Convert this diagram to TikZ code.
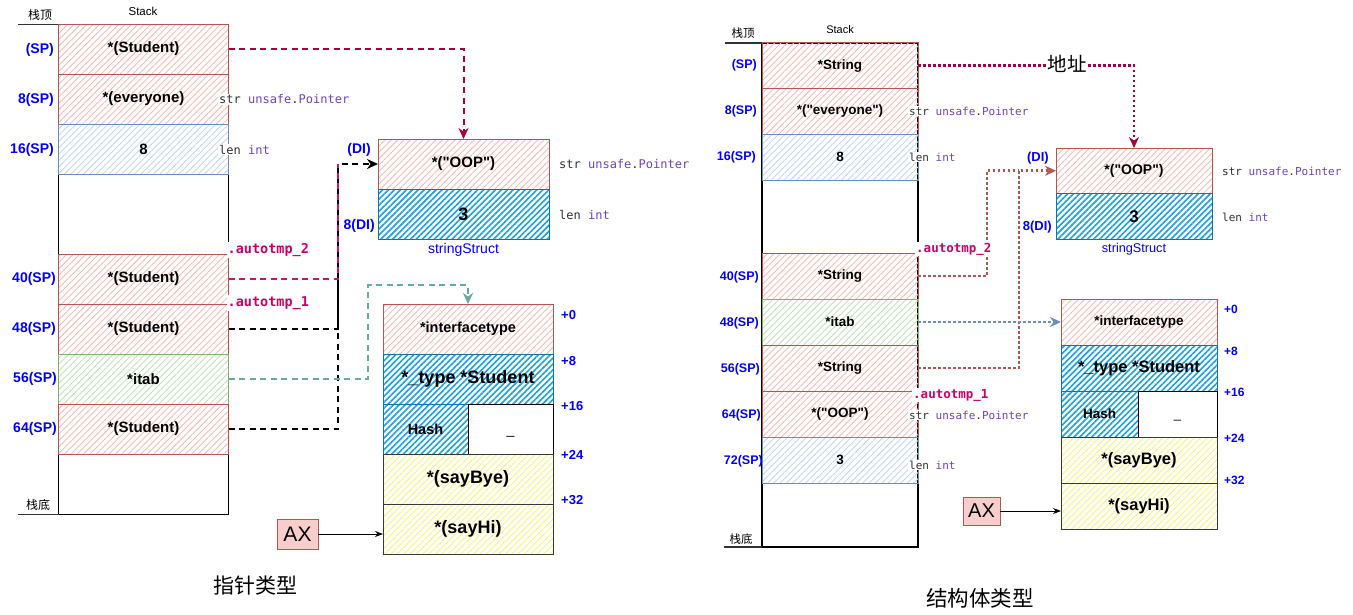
\documentclass[tikz,border=0pt]{standalone}
\usepackage{fontspec}
\setmainfont{Liberation Sans}[Ligatures=TeXOff]
\setmonofont{DejaVu Sans Mono}
\newfontfamily\cjk{Noto Sans CJK SC}
\usetikzlibrary{patterns.meta,arrows.meta}
\definecolor{redB}{RGB}{184,84,80}
\definecolor{redH}{RGB}{245,188,185}
\definecolor{blueB}{RGB}{108,142,191}
\definecolor{blueH}{RGB}{196,215,245}
\definecolor{greenB}{RGB}{130,179,102}
\definecolor{greenH}{RGB}{196,224,190}
\definecolor{yelB}{RGB}{54,57,61}
\definecolor{yelH}{RGB}{245,245,120}
\definecolor{denseB}{RGB}{16,115,170}
\definecolor{denseH}{RGB}{27,161,226}
\definecolor{crim}{RGB}{165,0,64}
\definecolor{pinkA}{RGB}{204,20,100}
\definecolor{tealA}{RGB}{103,171,159}
\definecolor{axF}{RGB}{248,206,204}
\definecolor{purp}{RGB}{111,66,193}
\definecolor{codeG}{RGB}{50,50,50}
\definecolor{tmpC}{RGB}{204,0,102}
\definecolor{lblB}{RGB}{0,0,255}
\newcommand\myfs[1]{\fontsize{#1pt}{#1pt}\selectfont}
\newcommand\strptr{\textcolor{codeG}{str} \textcolor{purp}{unsafe}\textcolor{codeG}{.}\textcolor{purp}{Pointer}}
\newcommand\lenint{\textcolor{codeG}{len} \textcolor{purp}{int}}
\begin{document}
\begin{tikzpicture}[x=1pt,y=-1pt,
  cell/.style={inner sep=0pt, outer sep=0pt, line width=0.9pt, font=\bfseries\myfs{15}},
  hred/.style={cell, draw=redB, pattern={Lines[angle=45,distance=4.5pt,line width=0.9pt]}, pattern color=redH},
  hblue/.style={cell, draw=blueB, pattern={Lines[angle=45,distance=4.5pt,line width=0.9pt]}, pattern color=blueH},
  hgreen/.style={cell, draw=greenB, pattern={Lines[angle=45,distance=4.5pt,line width=0.9pt]}, pattern color=greenH},
  hyellow/.style={cell, draw=yelB, pattern={Lines[angle=45,distance=4.5pt,line width=0.9pt]}, pattern color=yelH},
  hdense/.style={cell, draw=denseB, pattern={Lines[angle=45,distance=4.2pt,line width=1.6pt]}, pattern color=denseH},
  hwhite/.style={cell, draw=black, fill=white},
  Lrow/.style={minimum width=170pt, minimum height=50pt},
  Rrow/.style={minimum width=156pt, minimum height=46pt},
  stackbox/.style={draw=black, line width=1.2pt, fill=white, inner sep=0pt, outer sep=0pt},
  offl/.style={text=lblB, font=\bfseries\myfs{13}, inner sep=0pt},
  regl/.style={text=lblB, font=\bfseries\myfs{14}, inner sep=0pt, anchor=east},
  code/.style={font=\ttfamily\myfs{12}, fill=white, inner sep=1pt, anchor=west},
  tmp/.style={font=\ttfamily\bfseries\myfs{13.5}, text=tmpC, fill=white, inner sep=1pt, anchor=west},
  axbox/.style={draw=redB, fill=axF, line width=0.9pt, inner sep=0pt, font=\myfs{21}},
  cdash/.style={line width=2pt, dash pattern=on 6pt off 4.5pt},
  rdot/.style={line width=2.6pt, dash pattern=on 2.6pt off 2.4pt},
  tip/.style={-{Stealth[length=11pt,width=10pt]}},
  axarrow/.style={line width=0.8pt, -{Stealth[length=8pt,width=6pt]}}
]
\fill[white] (0,0) rectangle (1353,614);
\useasboundingbox (0,0) rectangle (1353,614);

%%%%%%%%%%%%%%%% LEFT: pointer type
\node[font=\myfs{11.5}] (LstackT) at (143,11) {Stack};
\node[font=\cjk\myfs{12}] (Ltop) at (40,15) {栈顶};
\node[font=\cjk\myfs{12}] (Lbot) at (38,505) {栈底};
\node[stackbox, minimum width=170pt, minimum height=490pt] (Lstack) at (143.5,269.5) {};
\coordinate (LtopA) at (18,24.5);
\coordinate (LbotA) at (18,514.5);
\draw[line width=1.5pt, black!80] (LtopA) -- (Lstack.north west);
\draw[line width=1.5pt, black!80] (LbotA) -- (Lstack.south west);

\node[hred, Lrow] (L1) at (143.5,49) {*(Student)};
\node[hred, Lrow] (L2) at (143.5,99) {*(everyone)};
\node[hblue, Lrow] (L3) at (143.5,149) {8};
\node[hred, Lrow] (L40) at (143.5,279) {*(Student)};
\node[hred, Lrow] (L48) at (143.5,329) {*(Student)};
\node[hgreen, Lrow] (L56) at (143.5,379) {*itab};
\node[hred, Lrow] (L64) at (143.5,429) {*(Student)};

\node[regl] (Ls0) at (54,49.5) {(SP)};
\node[regl] (Ls8) at (54,99.5) {8(SP)};
\node[regl] (Ls16) at (54,149.5) {16(SP)};
\node[regl] (Ls40) at (56,279) {40(SP)};
\node[regl] (Ls48) at (56,329) {48(SP)};
\node[regl] (Ls56) at (57,379) {56(SP)};
\node[regl] (Ls64) at (57,429) {64(SP)};

% stringStruct
\node[hred, minimum width=171pt, minimum height=50pt] (SL1) at (463.5,164) {*("OOP")};
\node[hdense, minimum width=171pt, minimum height=50pt, font=\bfseries\myfs{18}] (SL2) at (463.5,214) {3};
\node[text=lblB, font=\myfs{14}] (SLname) at (463.5,250) {stringStruct};
\node[regl] (LDI) at (371,150) {(DI)};
\node[regl] (LDI8) at (375,226) {8(DI)};
\node[code] (LSc1) at (558,164) {\strptr};
\node[code] (LSc2) at (558,215) {\lenint};

% itab
\node[hred, Lrow, font=\bfseries\myfs{14.5}] (IL0) at (468,329) {*interfacetype};
\node[hdense, Lrow, font=\bfseries\myfs{18}] (IL1) at (468,379) {*\_type *Student};
\node[hdense, minimum width=85pt, minimum height=50pt, font=\bfseries\myfs{14.5}] (IL2) at (425.5,429) {Hash};
\node[hwhite, minimum width=85pt, minimum height=50pt] (IL3) at (510.5,429) {};
\node[font=\myfs{14}, inner sep=0pt] (IL3t) at ([yshift=-7pt]IL3.center) {\_};
\node[hyellow, Lrow, font=\bfseries\myfs{18}] (IL4) at (468,479) {*(sayBye)};
\node[hyellow, Lrow, font=\bfseries\myfs{18}] (IL5) at (468,529) {*(sayHi)};
\node[offl, anchor=west] (Lo0) at (561,315) {+0};
\node[offl, anchor=west] (Lo8) at (561,361) {+8};
\node[offl, anchor=west] (Lo16) at (561,406) {+16};
\node[offl, anchor=west] (Lo24) at (561,455) {+24};
\node[offl, anchor=west] (Lo32) at (561,500) {+32};

\node[axbox, minimum width=41pt, minimum height=30pt] (AXL) at (297.5,534) {AX};
\draw[axarrow] (AXL.east) -- (AXL.east -| IL5.west);

% connectors left
\draw[crim, cdash, tip] (L1.east) -| (SL1.north);
\coordinate (jL) at (338,164);
\draw[black, cdash] (L48.east) -| (jL);
\draw[black, cdash, tip] (L64.east) -| (jL) -- (SL1.west);
\draw[pinkA, cdash] (L40.east) -| (jL);
\coordinate (tL) at (368,285);
\draw[tealA, cdash, tip] (L56.east) -| (tL) -| (IL0.north);

% left texts on stack
\node[code] (Lc1) at (218,99.5) {\strptr};
\node[code] (Lc2) at (218,149.5) {\lenint};
\node[tmp] (Lt2) at (226.5,250) {.autotmp\_2};
\node[tmp] (Lt1) at (226.5,303) {.autotmp\_1};

\node[font=\cjk\myfs{21}] (Ltitle) at (255,586) {指针类型};

%%%%%%%%%%%%%%%% RIGHT: struct type
\node[font=\myfs{11}] (RstackT) at (840,30) {Stack};
\node[font=\cjk\myfs{11.5}] (Rtop) at (743,33) {栈顶};
\node[font=\cjk\myfs{11.5}] (Rbot) at (741,539) {栈底};
\node[stackbox, minimum width=156pt, minimum height=504pt] (Rstack) at (840,295) {};
\coordinate (RtopA) at (725,43);
\coordinate (RbotA) at (724,547);
\draw[line width=1.8pt, black!80] (RtopA) -- (Rstack.north west);
\draw[line width=1.8pt, black!80] (RbotA) -- (Rstack.south west);

\node[hred, Rrow, font=\bfseries\myfs{13.5}] (R1) at (840,65.75) {*String};
\node[hred, Rrow, font=\bfseries\myfs{13.5}] (R2) at (840,111.25) {*("everyone")};
\node[hblue, Rrow, font=\bfseries\myfs{13.5}] (R3) at (840,157) {8};
\node[hred, Rrow, font=\bfseries\myfs{13.5}] (R40) at (840,276) {*String};
\node[hgreen, Rrow, font=\bfseries\myfs{13.5}] (R48) at (840,322) {*itab};
\node[hred, Rrow, font=\bfseries\myfs{13.5}] (R56) at (840,368) {*String};
\node[hred, Rrow, font=\bfseries\myfs{13.5}] (R64) at (840,414) {*("OOP")};
\node[hblue, Rrow, font=\bfseries\myfs{13.5}] (R72) at (840,460) {3};

\node[regl, font=\bfseries\myfs{12.5}] (Rs0) at (757,65.75) {(SP)};
\node[regl, font=\bfseries\myfs{12.5}] (Rs8) at (757,111.25) {8(SP)};
\node[regl, font=\bfseries\myfs{12.5}] (Rs16) at (756,157) {16(SP)};
\node[regl, font=\bfseries\myfs{12.5}] (Rs40) at (759,277) {40(SP)};
\node[regl, font=\bfseries\myfs{12.5}] (Rs48) at (759,323) {48(SP)};
\node[regl, font=\bfseries\myfs{12.5}] (Rs56) at (760,369) {56(SP)};
\node[regl, font=\bfseries\myfs{12.5}] (Rs64) at (761,415) {64(SP)};
\node[regl, font=\bfseries\myfs{12.5}] (Rs72) at (763,461) {72(SP)};

% stringStruct right
\node[hred, minimum width=156pt, minimum height=45.5pt, font=\bfseries\myfs{14}] (SR1) at (1134,170.75) {*("OOP")};
\node[hdense, minimum width=156pt, minimum height=45.5pt, font=\bfseries\myfs{17}] (SR2) at (1134,216.25) {3};
\node[text=lblB, font=\myfs{12.7}] (SRname) at (1134,249) {stringStruct};
\node[regl, font=\bfseries\myfs{13}] (RDI) at (1049,158) {(DI)};
\node[regl, font=\bfseries\myfs{13}] (RDI8) at (1052,227) {8(DI)};
\node[code, font=\ttfamily\myfs{11}] (RSc1) at (1221,171) {\strptr};
\node[code, font=\ttfamily\myfs{11}] (RSc2) at (1221,217) {\lenint};

% itab right
\node[hred, Rrow, font=\bfseries\myfs{13.5}] (IR0) at (1139,322) {*interfacetype};
\node[hdense, Rrow, font=\bfseries\myfs{16.5}] (IR1) at (1139,368) {*\_type *Student};
\node[hdense, minimum width=77pt, minimum height=46pt, font=\bfseries\myfs{13.5}] (IR2) at (1099.5,414) {Hash};
\node[hwhite, minimum width=79pt, minimum height=46pt] (IR3) at (1177.5,414) {};
\node[font=\myfs{13}, inner sep=0pt] (IR3t) at ([yshift=-6pt]IR3.center) {\_};
\node[hyellow, Rrow, font=\bfseries\myfs{16.5}] (IR4) at (1139,460) {*(sayBye)};
\node[hyellow, Rrow, font=\bfseries\myfs{16.5}] (IR5) at (1139,506) {*(sayHi)};
\node[offl, anchor=west, font=\bfseries\myfs{12}] (Ro0) at (1224,309) {+0};
\node[offl, anchor=west, font=\bfseries\myfs{12}] (Ro8) at (1224,351) {+8};
\node[offl, anchor=west, font=\bfseries\myfs{12}] (Ro16) at (1224,392) {+16};
\node[offl, anchor=west, font=\bfseries\myfs{12}] (Ro24) at (1224,438) {+24};
\node[offl, anchor=west, font=\bfseries\myfs{12}] (Ro32) at (1224,480) {+32};

\node[axbox, minimum width=37pt, minimum height=28pt, font=\myfs{20}] (AXR) at (981.5,511) {AX};
\draw[axarrow] (AXR.east) -- (AXR.east -| IR5.west);

% connectors right
\draw[crim, rdot, tip] (R1.east) -| (SR1.north);
\node[font=\cjk\myfs{19.5}, fill=white, inner sep=1pt] (addr) at (1067,64) {地址};
\coordinate (jR1) at (987,170.75);
\coordinate (jR2) at (1019,170.75);
\draw[redB, rdot] (R40.east) -| (jR1) -- (jR2);
\draw[redB, rdot, tip] (R56.east) -| (jR2) -- (SR1.west);
\draw[blueB, rdot, tip] (R48.east) -- (IR0.west);

% right texts on stack
\node[code, font=\ttfamily\myfs{11}] (Rc1) at (908,111) {\strptr};
\node[code, font=\ttfamily\myfs{11}] (Rc2) at (908,157) {\lenint};
\node[code, font=\ttfamily\myfs{11}] (Rc3) at (908,415) {\strptr};
\node[code, font=\ttfamily\myfs{11}] (Rc4) at (908,465) {\lenint};
\node[tmp, font=\ttfamily\bfseries\myfs{12.5}] (Rt2) at (915,249) {.autotmp\_2};
\node[tmp, font=\ttfamily\bfseries\myfs{12.5}] (Rt1) at (912,395) {.autotmp\_1};

\node[font=\cjk\myfs{21.5}] (Rtitle) at (980,598) {结构体类型};
\end{tikzpicture}
\end{document}
